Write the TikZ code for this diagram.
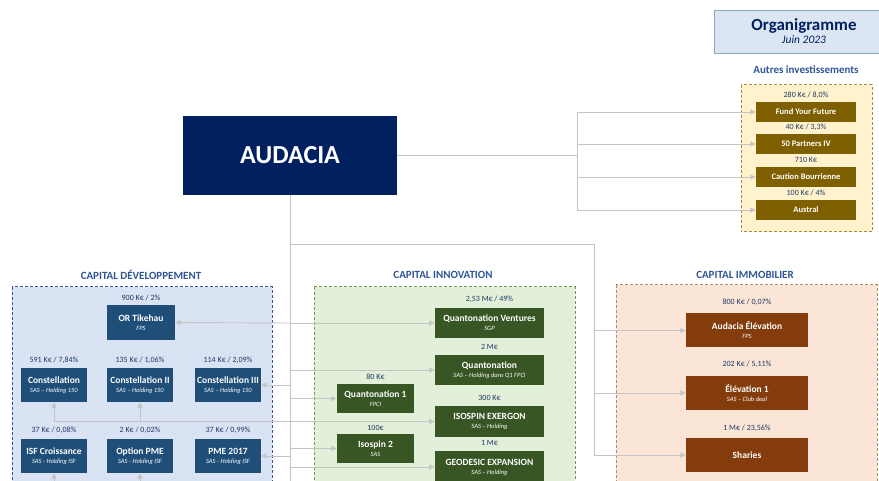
\documentclass[tikz,border=0pt]{standalone}
\usepackage{fontspec}
\setmainfont{Carlito}
\usetikzlibrary{arrows.meta}
\definecolor{audnavy}{HTML}{002060}
\definecolor{devblue}{HTML}{1F4E79}
\definecolor{devfill}{HTML}{DAE3F3}
\definecolor{devline}{HTML}{2F5597}
\definecolor{innogreen}{HTML}{375623}
\definecolor{innofill}{HTML}{E2F0D9}
\definecolor{innoline}{HTML}{6E9A55}
\definecolor{immobrown}{HTML}{843C0C}
\definecolor{immofill}{HTML}{FBE5D6}
\definecolor{immoline}{HTML}{C0865A}
\definecolor{autgold}{HTML}{7F6000}
\definecolor{autfill}{HTML}{FFF2CC}
\definecolor{autline}{HTML}{A68A4A}
\definecolor{valblue}{HTML}{1F3864}
\definecolor{headblue}{HTML}{2F5597}
\definecolor{titfill}{HTML}{DCE6F2}
\definecolor{titline}{HTML}{8EA9C8}
\definecolor{linkgray}{HTML}{C4C4C4}
\newcommand{\subl}[1]{\\[-1.5pt]{\mdseries\itshape\fontsize{6.5}{7}\selectfont #1}}

\begin{document}
\begin{tikzpicture}[x=1pt,y=-1pt,
     box/.style={text=white,inner sep=0pt,align=center,font=\bfseries\fontsize{9.5}{10.5}\selectfont},
     devbox/.style={box,fill=devblue,minimum width=66,minimum height=34},
     innobox/.style={box,fill=innogreen,minimum width=109,minimum height=30},
     innosmall/.style={box,fill=innogreen,minimum width=77,minimum height=29},
     immobox/.style={box,fill=immobrown,minimum width=122,minimum height=34},
     autbox/.style={box,fill=autgold,minimum width=100,minimum height=20,font=\bfseries\fontsize{8.5}{9}\selectfont},
     val/.style={text=valblue,inner sep=0pt,font=\fontsize{8}{8.5}\selectfont},
     head/.style={text=headblue,inner sep=0pt,font=\bfseries\fontsize{11}{12}\selectfont},
     panel/.style={line width=1pt,dash pattern=on 3pt off 2pt},
     link/.style={draw=linkgray,line width=0.9pt},
     arr/.style={link,-{Triangle[length=5.5pt,width=5pt]}}]
     \useasboundingbox (0,0) rectangle (879,481);
     \draw[panel,draw=devline,fill=devfill] (12,287) rectangle (272,490);
     \draw[panel,draw=innoline,fill=innofill] (314,287) rectangle (575,490);
     \draw[panel,draw=immoline,fill=immofill] (616,285) rectangle (877,490);
     \draw[panel,draw=autline,fill=autfill] (741,85) rectangle (872,232);
     \node[fill=titfill,draw=titline,line width=0.8pt,minimum width=180,minimum height=43,align=center,inner sep=0pt]
          (ttl) at (804,31.5) {{\color{audnavy}\bfseries\fontsize{17}{18}\selectfont Organigramme}\\[1pt]
          {\color{audnavy}\itshape\fontsize{11.5}{12}\selectfont Juin 2023}};
     \node[head] (auth) at (806,70) {Autres investissements};
     \node[head] (devh) at (141,275) {CAPITAL DÉVELOPPEMENT};
     \node[head] (innh) at (443,275) {CAPITAL INNOVATION};
     \node[head] (immh) at (745,275) {CAPITAL IMMOBILIER};
     \node[fill=audnavy,text=white,minimum width=214,minimum height=79,font=\bfseries\fontsize{26}{28}\selectfont]
          (aud) at (290,155.5) {AUDACIA};
     \node[val] (fyfv) at (806,95) {280 K€ / 8,0\%};
     \node[autbox] (fyf) at (806,112) {Fund Your Future};
     \node[val] (p50v) at (806,127) {40 K€ / 3,3\%};
     \node[autbox] (p50) at (806,144) {50 Partners IV};
     \node[val] (cbv) at (806,160) {710 K€};
     \node[autbox] (cb) at (806,177) {Caution Bourrienne};
     \node[val] (ausv) at (806,193) {100 K€ / 4\%};
     \node[autbox] (aus) at (806,210) {Austral};
     \node[val] (ortv) at (141,298) {900 K€ / 2\%};
     \node[devbox,minimum width=68,minimum height=35] (ort) at (141,322.5) {OR Tikehau\subl{FPS}};
     \node[val] (conv) at (54,360) {591 K€ / 7,84\%};
     \node[devbox] (con) at (54,385) {Constellation\subl{SAS – Holding 150}};
     \node[val] (co2v) at (140,360) {135 K€ / 1,06\%};
     \node[devbox] (co2) at (140,385) {Constellation II\subl{SAS – Holding 150}};
     \node[val] (co3v) at (228,360) {114 K€ / 2,09\%};
     \node[devbox] (co3) at (228,385) {Constellation III\subl{SAS – Holding 150}};
     \node[val] (isfv) at (54,430) {37 K€ / 0,08\%};
     \node[devbox] (isf) at (54,456) {ISF Croissance\subl{SAS - Holding ISF}};
     \node[val] (opmv) at (140,430) {2 K€ / 0,02\%};
     \node[devbox] (opm) at (140,456) {Option PME\subl{SAS - Holding ISF}};
     \node[val] (pmev) at (228,430) {37 K€ / 0,99\%};
     \node[devbox] (pme) at (228,456) {PME 2017\subl{SAS - Holding ISF}};
     \node[val] (qvv) at (489.5,299) {2,53 M€ / 49\%};
     \node[innobox] (qv) at (489.5,323) {Quantonation Ventures\subl{SGP}};
     \node[val] (quav) at (489.5,347) {2 M€};
     \node[innobox] (qua) at (489.5,370) {Quantonation\subl{SAS – Holding dans Q1 FPCI}};
     \node[val] (q1v) at (375.5,377) {80 K€};
     \node[innosmall] (q1) at (375.5,398.5) {Quantonation 1\subl{FPCI}};
     \node[val] (isov) at (489.5,398) {300 K€};
     \node[innobox,minimum height=31] (iso) at (489.5,421.5) {ISOSPIN EXERGON\subl{SAS – Holding}};
     \node[val] (is2v) at (375.5,428) {100€};
     \node[innosmall] (is2) at (375.5,448.5) {Isospin 2\subl{SAS}};
     \node[val] (geov) at (489.5,443) {1 M€};
     \node[innobox,minimum height=32] (geo) at (489.5,467) {GEODESIC EXPANSION\subl{SAS – Holding}};
     \node[val] (auev) at (747,302) {800 K€ / 0,07\%};
     \node[immobox] (aue) at (747,330.5) {Audacia Élévation\subl{FPS}};
     \node[val] (el1v) at (747,364) {202 K€ / 5,11\%};
     \node[immobox] (el1) at (747,393) {Élévation 1\subl{SAS – Club deal}};
     \node[val] (shav) at (747,428) {1 M€ / 23,56\%};
     \node[immobox] (sha) at (747,455) {Sharies};
     \coordinate (jr) at (577,0);
     \coordinate (ji) at (594,244);
     \coordinate (tb) at (290,481);
     \draw[link] (aud.east) -- (aud.east -| jr);
     \draw[arr] (aud.east -| jr) |- (fyf.west);
     \draw[arr] (aud.east -| jr) |- (p50.west);
     \draw[arr] (aud.east -| jr) |- (cb.west);
     \draw[arr] (aud.east -| jr) |- (aus.west);
     \draw[link] (aud.south) -- (tb);
     \draw[link] (aud.south |- ji) -- (ji);
     \draw[arr] (ji) |- (aue.west);
     \draw[arr] (ji) |- (el1.west);
     \draw[arr] (ji) |- (sha.west);
     \draw[arr] (aud.south |- qv.west) -- (qv.west);
     \draw[arr] (aud.south |- qv.west) -- (ort.east);
     \draw[arr] (aud.south |- qua.west) -- (qua.west);
     \draw[arr] (aud.south |- co3.east) -- (co3.east);
     \draw[arr] (aud.south |- q1.west) -- (q1.west);
     \draw[arr] (con.south |- iso.west) -- (iso.west);
     \draw[arr] (con.south |- iso.west) -- (con.south);
     \draw[arr] (co2.south |- iso.west) -- (co2.south);
     \draw[arr] (aud.south |- is2.west) -- (is2.west);
     \draw[arr] (aud.south |- pme.east) -- (pme.east);
     \draw[arr] (aud.south |- geo.west) -- (geo.west);
     \draw[arr] (isf.south |- tb) -- (isf.south);
     \draw[arr] (opm.south |- tb) -- (opm.south);
\end{tikzpicture}
\end{document}
